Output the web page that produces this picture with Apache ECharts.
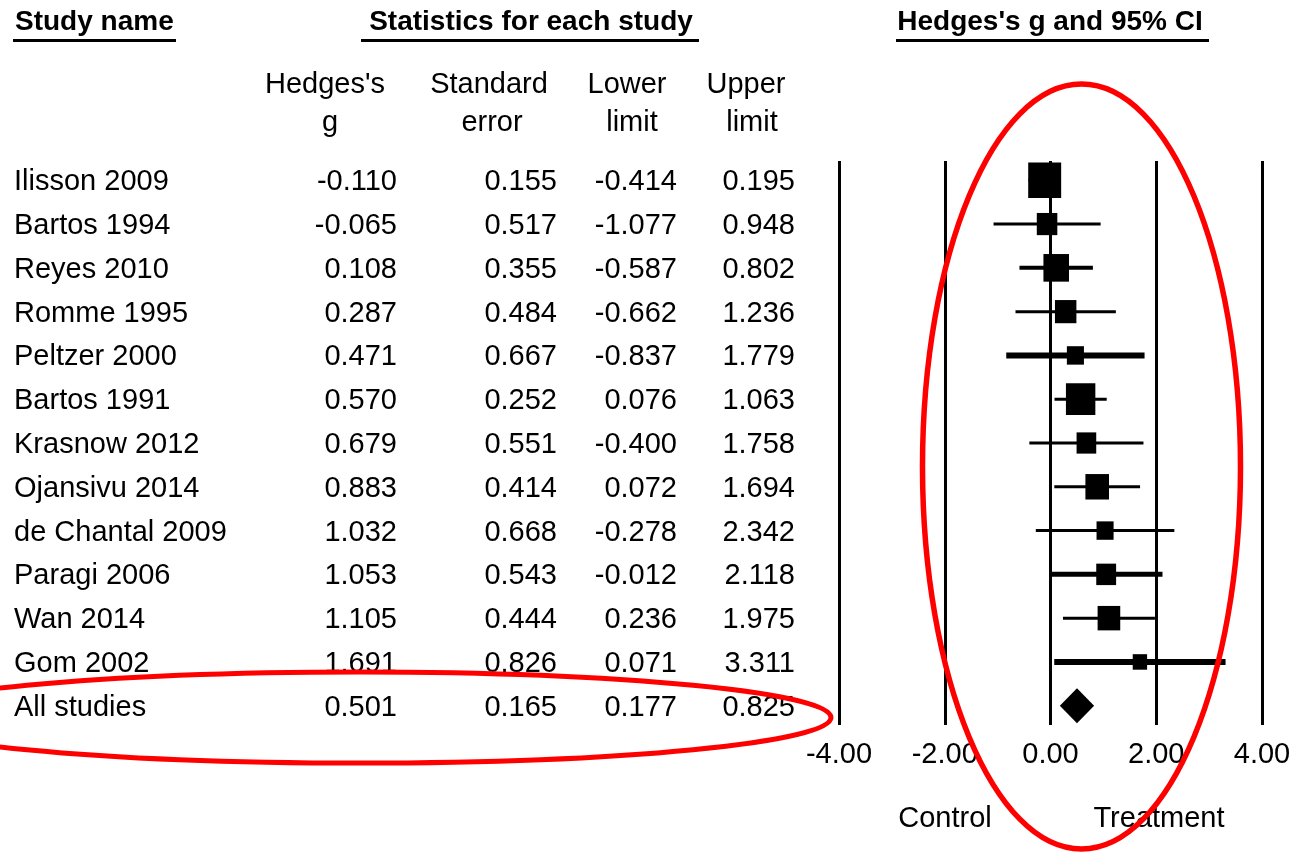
<!DOCTYPE html>
<html>
<head>
<meta charset="utf-8">
<script src="https://cdn.jsdelivr.net/npm/echarts@6/dist/echarts.min.js"></script>
<style>
  html, body { margin: 0; padding: 0; background: #ffffff; }
  #chart { width: 1303px; height: 852px; }
</style>
</head>
<body>
<div id="chart"></div>
<script>
// ---- Study data (Hedges's g with standard error and 95% limits) ----
const studies    = ['Ilisson 2009', 'Bartos 1994', 'Reyes 2010', 'Romme 1995', 'Peltzer 2000', 'Bartos 1991',
                    'Krasnow 2012', 'Ojansivu 2014', 'de Chantal 2009', 'Paragi 2006', 'Wan 2014', 'Gom 2002'];
const hedgesG    = [-0.110, -0.065, 0.108, 0.287, 0.471, 0.570, 0.679, 0.883, 1.032, 1.053, 1.105, 1.691];
const stdError   = [ 0.155,  0.517, 0.355, 0.484, 0.667, 0.252, 0.551, 0.414, 0.668, 0.543, 0.444, 0.826];
const lowerLimit = [-0.414, -1.077, -0.587, -0.662, -0.837, 0.076, -0.400, 0.072, -0.278, -0.012, 0.236, 0.071];
const upperLimit = [ 0.195,  0.948, 0.802, 1.236, 1.779, 1.063, 1.758, 1.694, 2.342, 2.118, 1.975, 3.311];

// ---- Pooled (random effects) result ----
const pooledLabel = 'All studies';
const pooledG     = 0.501;
const pooledSE    = 0.165;
const pooledLower = 0.177;
const pooledUpper = 0.825;

// ---- Effect axis ----
const axisMin = -4, axisMax = 4, axisStep = 2;
const sideLabels = ['Control', 'Treatment'];

// ---- Styles ----
const FONT = "'Liberation Sans', Arial, sans-serif";
const ROW_FONT = 29;
const HEAD_FONT = 28;
const TEXT_DY = 2;            // nudges glyphs so caps sit centred on the row
const BOX_SCALE = 12.95;      // marker side per sqrt(weight)
const BOX_ASPECT = 1.08;
const DIAMOND_HALF_H = 17.5;
const ciWidthByStudy = { 'Reyes 2010': 4, 'Peltzer 2000': 6, 'Paragi 2006': 5, 'Gom 2002': 6 };
const ciWidthDefault = 3;
const COL_NAME_X = 14;
const COL_RIGHT = [397, 557, 677, 795];

// DerSimonian–Laird between-study variance, used for the random-effects weights
function dlTau2(g, se) {
  const w = se.map(s => 1 / (s * s));
  const sw = w.reduce((a, b) => a + b, 0);
  const sw2 = w.reduce((a, b) => a + b * b, 0);
  const mean = w.reduce((a, wi, i) => a + wi * g[i], 0) / sw;
  const q = w.reduce((a, wi, i) => a + wi * (g[i] - mean) * (g[i] - mean), 0);
  const c = sw - sw2 / sw;
  return Math.max(0, (q - (g.length - 1)) / c);
}
const tau2 = dlTau2(hedgesG, stdError);

const nRows = studies.length + 1;
const pooledRow = studies.length;

const tableNames = studies.concat([pooledLabel]);
const tableG  = hedgesG.concat([pooledG]);
const tableSE = stdError.concat([pooledSE]);
const tableLo = lowerLimit.concat([pooledLower]);
const tableHi = upperLimit.concat([pooledUpper]);

const chart = echarts.init(document.getElementById('chart'), null, { renderer: 'canvas' });

function txt(text, x, y, opts) {
  return {
    type: 'text', x: x, y: y + TEXT_DY,
    style: Object.assign({
      text: text, fill: '#000', fontFamily: FONT, fontSize: ROW_FONT,
      align: 'center', verticalAlign: 'middle'
    }, opts || {})
  };
}

const option = {
  backgroundColor: '#ffffff',
  animation: false,
  grid: { left: 839, right: 41, top: 161, bottom: 127, outerBoundsMode: 'none' },
  xAxis: {
    type: 'value', min: axisMin, max: axisMax, interval: axisStep,
    axisLine: { show: false }, axisTick: { show: false },
    splitLine: { show: true, lineStyle: { color: '#000', width: 3 } },
    axisLabel: {
      color: '#000', fontFamily: FONT, fontSize: ROW_FONT, margin: 15,
      formatter: v => v.toFixed(2)
    }
  },
  yAxis: { type: 'value', min: -0.44, max: nRows - 1 + 0.44, inverse: true, show: false },
  series: [
    {
      // study confidence intervals and weight-scaled boxes
      type: 'custom', name: 'studies', clip: false, silent: true,
      encode: { x: [1, 2, 3], y: 0 },
      data: studies.map((s, i) => [i, hedgesG[i], lowerLimit[i], upperLimit[i], stdError[i]]),
      renderItem: function (params, api) {
        const row = api.value(0), g = api.value(1), lo = api.value(2), hi = api.value(3), se = api.value(4);
        const c = api.coord([g, row]);
        const l = api.coord([lo, row]);
        const r = api.coord([hi, row]);
        const w = BOX_SCALE * Math.sqrt(1 / (se * se + tau2));
        const h = w * BOX_ASPECT;
        const name = studies[params.dataIndex];
        return {
          type: 'group',
          children: [
            { type: 'line', shape: { x1: l[0], y1: c[1], x2: r[0], y2: c[1] },
              style: { stroke: '#000', lineWidth: ciWidthByStudy[name] || ciWidthDefault } },
            { type: 'rect', shape: { x: c[0] - w / 2, y: c[1] - h / 2, width: w, height: h },
              style: { fill: '#000' } }
          ]
        };
      }
    },
    {
      // pooled estimate diamond
      type: 'custom', name: 'pooled', clip: false, silent: true,
      encode: { x: [1, 2, 3], y: 0 },
      data: [[pooledRow, pooledG, pooledLower, pooledUpper]],
      renderItem: function (params, api) {
        const row = api.value(0);
        const c = api.coord([api.value(1), row]);
        const l = api.coord([api.value(2), row]);
        const r = api.coord([api.value(3), row]);
        return {
          type: 'polygon',
          shape: { points: [[l[0], c[1]], [c[0], c[1] - DIAMOND_HALF_H], [r[0], c[1]], [c[0], c[1] + DIAMOND_HALF_H]] },
          style: { fill: '#000' }
        };
      }
    },
    {
      // statistics table, one text row per study aligned to the plot rows
      type: 'custom', name: 'table', clip: false, silent: true,
      encode: { x: 1, y: 0 },
      data: tableNames.map((n, i) => [i, tableG[i]]),
      renderItem: function (params, api) {
        const i = params.dataIndex;
        const y = api.coord([0, api.value(0)])[1];
        const vals = [tableG[i], tableSE[i], tableLo[i], tableHi[i]];
        const children = [txt(tableNames[i], COL_NAME_X, y, { align: 'left' })];
        vals.forEach((v, k) => children.push(txt(v.toFixed(3), COL_RIGHT[k], y, { align: 'right' })));
        return { type: 'group', children: children };
      }
    }
  ],
  graphic: [
    // section headings with underlines
    txt('Study name', 15, 20, { align: 'left', fontWeight: 'bold', fontSize: HEAD_FONT }),
    { type: 'line', shape: { x1: 13, y1: 40.5, x2: 176, y2: 40.5 }, style: { stroke: '#000', lineWidth: 3 } },
    txt('Statistics for each study', 531, 20, { fontWeight: 'bold', fontSize: HEAD_FONT }),
    { type: 'line', shape: { x1: 361, y1: 40.5, x2: 699, y2: 40.5 }, style: { stroke: '#000', lineWidth: 3 } },
    txt("Hedges's g and 95% CI", 1050, 20, { fontWeight: 'bold', fontSize: HEAD_FONT }),
    { type: 'line', shape: { x1: 896, y1: 40.5, x2: 1209, y2: 40.5 }, style: { stroke: '#000', lineWidth: 3 } },
    // column headings
    txt("Hedges's", 325, 83), txt('g', 330, 121),
    txt('Standard', 489, 83), txt('error', 492, 121),
    txt('Lower', 627, 83), txt('limit', 632, 121),
    txt('Upper', 746, 83), txt('limit', 752, 121),
    // direction captions under the effect axis
    txt(sideLabels[0], 945, 817), txt(sideLabels[1], 1159, 817),
    // red emphasis rings
    { type: 'ellipse', z: 100, shape: { cx: 1081.5, cy: 466.5, rx: 159, ry: 382.5 },
      style: { fill: null, stroke: '#ff0000', lineWidth: 5.5 } },
    { type: 'ellipse', z: 100, shape: { cx: 360, cy: 717.5, rx: 471, ry: 45.6 },
      style: { fill: null, stroke: '#ff0000', lineWidth: 5 } }
  ]
};

chart.setOption(option);
</script>
</body>
</html>
